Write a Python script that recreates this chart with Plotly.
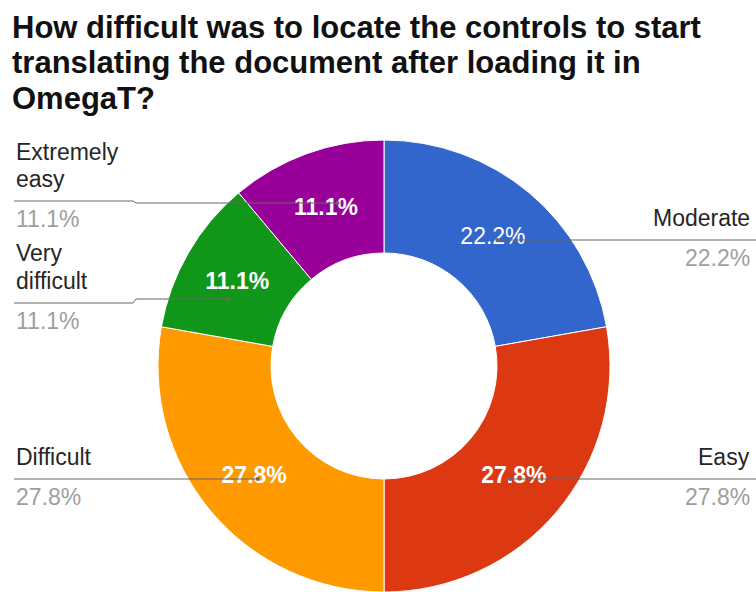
import math
import plotly.graph_objects as go

W, H = 756, 592

# survey answers (number of respondents), listed clockwise from 12 o'clock
categories = ["Moderate", "Easy", "Difficult", "Very difficult", "Extremely easy"]
responses = [4, 5, 5, 2, 2]
colors = ["#3366cc", "#dc3912", "#ff9900", "#109618", "#990099"]
title_lines = [
    "How difficult was to locate the controls to start",
    "translating the document after loading it in",
    "OmegaT?",
]

# outside-label layout (pixels from the top-left of the page)
label_side = ["right", "right", "left", "left", "left"]
label_line_y = [240, 479, 479, 303, 201]
leader_end_y = [240, 479, 479, 299, 203]
slice_weight = ["normal", "bold", "bold", "bold", "bold"]

# donut geometry in pixels
CX, CY, R, HOLE = 384, 366, 226, 0.5
LEFT_X, LEFT_KNEE, RIGHT_X = 14, 133, 752

total = sum(responses)
pct_text = [f"{100 * v / total:.1f}%" for v in responses]


def px(x):
    return x / W


def py(y):
    return 1 - y / H


fig = go.Figure(
    go.Pie(
        labels=categories,
        values=responses,
        text=pct_text,
        texttemplate=["<b>%{text}</b>" if w == "bold" else "%{text}" for w in slice_weight],
        textinfo="text",
        textposition="inside",
        insidetextorientation="horizontal",
        insidetextfont=dict(family="Liberation Sans, Arial, sans-serif", size=23, color="#ffffff"),
        marker=dict(colors=colors, line=dict(color="#ffffff", width=1)),
        hole=HOLE,
        sort=False,
        direction="clockwise",
        rotation=0,
        domain=dict(x=[px(CX - R), px(CX + R)], y=[0, py(CY - R)]),
        hoverinfo="skip",
    )
)

annotations = []
shapes = []

# chart title, one annotation per line
for i, line in enumerate(title_lines):
    baseline = 38 + 36 * i
    annotations.append(dict(
        text=f"<b>{line}</b>", xref="paper", yref="paper",
        x=px(10), y=py(baseline - 11), xanchor="left", yanchor="middle",
        showarrow=False,
        font=dict(family="Liberation Sans, Arial, sans-serif", size=31, color="#111111"),
    ))

r_mid = R * (1 + HOLE) / 2
for name, pct, side, ly, ey in zip(categories, pct_text, label_side, label_line_y, leader_end_y):
    anchor = "left" if side == "left" else "right"
    ax = LEFT_X if side == "left" else RIGHT_X
    words = name.split(" ") if side == "left" else [name]
    # category name stacked above the leader line
    for k, word in enumerate(reversed(words)):
        baseline = ly - 14 - 27.5 * k
        annotations.append(dict(
            text=word, xref="paper", yref="paper",
            x=px(ax), y=py(baseline - 8), xanchor=anchor, yanchor="middle",
            showarrow=False,
            font=dict(family="Liberation Sans, Arial, sans-serif", size=23, color="#262626"),
        ))
    # percentage below the leader line
    annotations.append(dict(
        text=pct, xref="paper", yref="paper",
        x=px(ax), y=py(ly + 26 - 8), xanchor=anchor, yanchor="middle",
        showarrow=False,
        font=dict(family="Liberation Sans, Arial, sans-serif", size=23, color="#9e9e9e"),
    ))

    # leader line ends on the mid-ring circle at the leader's height
    dy = ey - CY
    dx = math.sqrt(max(r_mid ** 2 - dy ** 2, 0))
    end_x = CX - dx if side == "left" else CX + dx
    if side == "left":
        path = [(LEFT_X, ly), (LEFT_KNEE, ly), (LEFT_KNEE + 3, ey), (end_x, ey)]
    else:
        path = [(end_x, ey), (W, ly)]
    d = "M " + " L ".join(f"{px(x):.5f},{py(y):.5f}" for x, y in path)
    shapes.append(dict(type="path", path=d, xref="paper", yref="paper",
                       line=dict(color="#666666", width=1), layer="above"))
    shapes.append(dict(type="circle", xref="paper", yref="paper",
                       x0=px(end_x - 2), x1=px(end_x + 2), y0=py(ey - 2), y1=py(ey + 2),
                       fillcolor="#666666", line=dict(width=0), layer="above"))

fig.update_layout(
    width=W, height=H,
    margin=dict(l=0, r=0, t=0, b=0),
    paper_bgcolor="#ffffff",
    plot_bgcolor="#ffffff",
    showlegend=False,
    annotations=annotations,
    shapes=shapes,
)

fig.write_html("out.html")
